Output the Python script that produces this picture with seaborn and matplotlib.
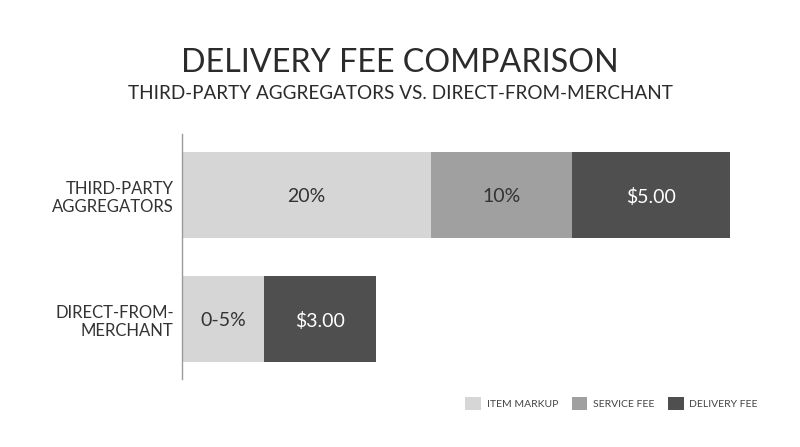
import numpy as np
import pandas as pd
import matplotlib.pyplot as plt
import seaborn as sns
from matplotlib.patches import Patch

sns.set_theme(style='white')
plt.rcParams['font.family'] = ['Lato', 'DejaVu Sans']

# data: segment lengths (relative bar length units) and their printed labels
categories = ['THIRD-PARTY\nAGGREGATORS', 'DIRECT-FROM-\nMERCHANT']
components = ['ITEM MARKUP', 'SERVICE FEE', 'DELIVERY FEE']
item_markup = [249, 82]
service_fee = [141, 0]
delivery_fee = [158, 112]
item_labels = ['20%', '0-5%']
service_labels = ['10%', '']
delivery_labels = ['$5.00', '$3.00']

colors = ['#d6d6d6', '#a0a0a0', '#4f4f4f']
text_colors = ['#333333', '#333333', '#ffffff']

df = pd.DataFrame({'category': categories,
                   'ITEM MARKUP': item_markup,
                   'SERVICE FEE': service_fee,
                   'DELIVERY FEE': delivery_fee})
cum = df[components].cumsum(axis=1)

fig = plt.figure(figsize=(8, 4.47), dpi=100)
ax = fig.add_axes([0.2275, 0.1521, 0.75, 0.548])

# stacked: draw totals first, then smaller cumulative sums on top
for comp, col in reversed(list(zip(components, colors))):
    sns.barplot(x=cum[comp], y=df['category'], color=col, orient='h',
                width=0.69, ax=ax, saturation=1, linewidth=0)

labels = [item_labels, service_labels, delivery_labels]
for j, comp in enumerate(components):
    left = cum[comp] - df[comp]
    for i in range(len(df)):
        if labels[j][i]:
            ax.text(left[i] + df[comp][i] / 2, i + 0.015, labels[j][i],
                    ha='center', va='center', fontsize=14,
                    color=text_colors[j])

ax.set_xlim(0, 600)
ax.set_ylim(1.484, -0.492)
ax.set_xlabel('')
ax.set_ylabel('')
ax.set_xticks([])
for s in ['top', 'right', 'bottom']:
    ax.spines[s].set_visible(False)
ax.spines['left'].set_color('#9a9a9a')
ax.spines['left'].set_linewidth(1)
ax.tick_params(axis='y', length=0, pad=6)
for t in ax.get_yticklabels():
    t.set_fontsize(12)
    t.set_color('#333333')
    t.set_multialignment('right')

fig.text(0.5, 0.8396, 'DELIVERY FEE COMPARISON', ha='center', va='baseline',
         fontsize=23.2, color='#2b2b2b')
fig.text(0.5, 0.778, 'THIRD-PARTY AGGREGATORS VS. DIRECT-FROM-MERCHANT',
         ha='center', va='baseline', fontsize=13.6, color='#2b2b2b')

handles = [Patch(facecolor=c, edgecolor='none', label=l)
           for c, l in zip(colors, components)]
fig.legend(handles=handles, loc='center right', bbox_to_anchor=(0.959, 0.0975),
           ncol=3, frameon=False, fontsize=7.5, handlelength=1.5,
           handleheight=1.5, handletextpad=0.55, columnspacing=1.3,
           labelcolor='#444444')

fig.savefig('out.png', dpi=100, facecolor='white')
